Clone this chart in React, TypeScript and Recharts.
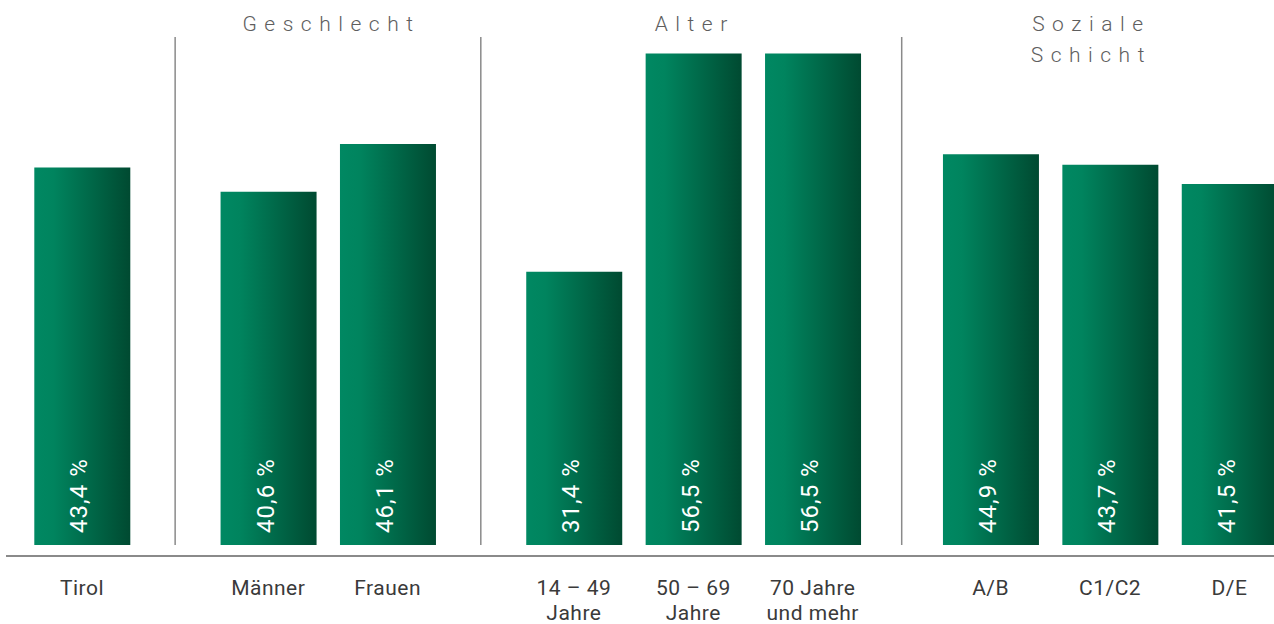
import { Bar, BarChart, LabelList, ReferenceLine, XAxis, YAxis } from "recharts";

// Reach of the survey by segment, Tirol overall plus three breakdown groups.

const categories = [
  "Tirol",
  "Männer",
  "Frauen",
  "14 – 49\nJahre",
  "50 – 69\nJahre",
  "70 Jahre\nund mehr",
  "A/B",
  "C1/C2",
  "D/E",
];
const values = [43.4, 40.6, 46.1, 31.4, 56.5, 56.5, 44.9, 43.7, 41.5];
const groupTitles = ["", "Geschlecht", "Alter", "Soziale\nSchicht"];
const groupSizes = [1, 2, 3, 3];

// layout (in band units: one unit = distance between neighbouring bars)
const GROUP_GAPS = [0, 0.56, 0.56, 0.49];
const X_DOMAIN: [number, number] = [-0.6365, 9.983];
const Y_DOMAIN: [number, number] = [-1.264, 62.64];
const SEPARATOR_TOP = 58.4;

const FONT = "Roboto, 'DejaVu Sans', sans-serif";
const TEXT = "#3a3a3a";
const HEADER = "#5e5e5e";
const RULE = "#8a8a8a";

// bar slot positions, built from the group structure
const positions: number[] = [];
const groupBounds: { start: number; end: number }[] = [];
{
  let cursor = 0;
  let offset = 0;
  groupSizes.forEach((size, g) => {
    offset += GROUP_GAPS[g];
    const start = positions.length;
    for (let i = 0; i < size; i++) {
      positions.push(cursor + offset);
      cursor++;
    }
    groupBounds.push({ start, end: positions.length - 1 });
  });
}

const data = categories.map((name, i) => ({ name, pos: positions[i], value: values[i] }));

// separators sit halfway between the last bar of one group and the first of the next
const separators = groupBounds.slice(1).map((b) => (positions[b.start - 1] + positions[b.start]) / 2);
const headerCenters = groupBounds.map((b, g) => {
  const left = g === 0 ? X_DOMAIN[0] : separators[g - 1];
  const right = g < separators.length ? separators[g] : X_DOMAIN[1];
  return (left + right) / 2;
});

function CategoryTick({ x, y, payload }: any) {
  const idx = positions.findIndex((p) => Math.abs(p - payload.value) < 1e-6);
  const lines = (categories[idx] ?? "").split("\n");
  return (
    <text x={x} y={y} textAnchor="middle" fill={TEXT} fontFamily={FONT} fontSize={21} letterSpacing={0.5}>
      {lines.map((l, i) => (
        <tspan key={i} x={x} dy={i === 0 ? 31 : 25}>
          {l}
        </tspan>
      ))}
    </text>
  );
}

function ValueLabel({ x, y, width, height, value }: any) {
  const cx = x + width / 2 + 5;
  const by = y + height - 12;
  return (
    <text
      x={cx}
      y={by}
      transform={`rotate(-90, ${cx}, ${by})`}
      fill="#ffffff"
      fontFamily={FONT}
      fontSize={24}
      letterSpacing={1}
      textAnchor="start"
    >
      {`${String(value).replace(".", ",")} %`}
    </text>
  );
}

function headerLabel(title: string) {
  return ({ viewBox }: any) => {
    const lines = title.split("\n");
    return (
      <text x={viewBox.x} y={31} textAnchor="middle" fill={HEADER} fontFamily={FONT} fontWeight={300} fontSize={21} letterSpacing={7.5}>
        {lines.map((l, i) => (
          <tspan key={i} x={viewBox.x + 3.5} dy={i === 0 ? 0 : 31}>
            {l}
          </tspan>
        ))}
      </text>
    );
  };
}

export default function App() {
  return (
    <div style={{ position: "absolute", left: 0, top: 0, width: 1274, height: 624, background: "#fff" }}>
      <BarChart width={1274} height={624} data={data} margin={{ top: 0, right: 0, left: 6, bottom: 0 }}>
        <defs>
          <linearGradient id="barGrad" x1="0" y1="0" x2="1" y2="0">
            <stop offset="0%" stopColor="#008862" />
            <stop offset="20%" stopColor="#00845e" />
            <stop offset="100%" stopColor="#004a31" />
          </linearGradient>
        </defs>
        <XAxis
          dataKey="pos"
          type="number"
          domain={X_DOMAIN}
          allowDataOverflow
          ticks={positions}
          interval={0}
          height={68}
          tickLine={false}
          axisLine={{ stroke: RULE, strokeWidth: 2 }}
          tick={<CategoryTick />}
        />
        <YAxis hide type="number" domain={Y_DOMAIN} allowDataOverflow />
        {separators.map((sx) => (
          <ReferenceLine
            key={sx}
            segment={[
              { x: sx, y: 0 },
              { x: sx, y: SEPARATOR_TOP },
            ]}
            stroke={RULE}
            strokeWidth={1.5}
          />
        ))}
        {groupTitles.map((t, g) =>
          t ? <ReferenceLine key={t} x={headerCenters[g]} stroke="none" label={headerLabel(t)} /> : null
        )}
        <Bar dataKey="value" fill="url(#barGrad)" barSize={96} isAnimationActive={false}>
          <LabelList dataKey="value" content={<ValueLabel />} />
        </Bar>
      </BarChart>
    </div>
  );
}
